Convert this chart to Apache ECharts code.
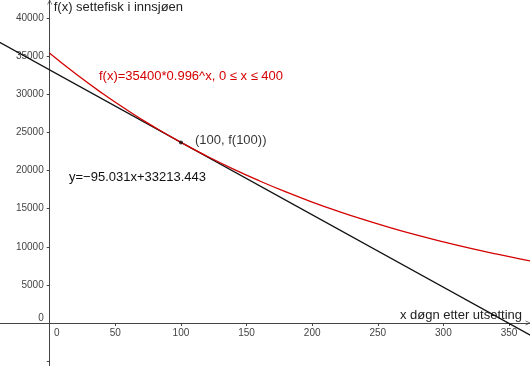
<!DOCTYPE html>
<html><head><meta charset="utf-8">
<script src="https://cdn.jsdelivr.net/npm/echarts@6/dist/echarts.min.js"></script>
<style>html,body{margin:0;padding:0;background:#fff}#c{width:530px;height:366px}</style>
</head><body><div id="c"></div>
<script>
// f(x)=35400*0.996^x, values read at these x positions
const curveX = [0,20,40,60,80,100,120,140,160,180,200,220,240,260,280,300,320,340,360,380,400];
const curveY = [35400,32673,30156,27833,25689,23710,21884,20198,18642,17206,15881,14658,13529,12486,11525,10637,9817,9061,8363,7719,7124];
// tangent y=-95.031x+33213.443 endpoints
const tangentX = [-40, 370];
const tangentY = [37014.7, -1948.0];
// point (100, f(100))
const pointX = [100];
const pointY = [23710];
// tick values
const xTicks = [0,50,100,150,200,250,300,350];
const yTicks = [-5000,0,5000,10000,15000,20000,25000,30000,35000,40000];
const yLabels = [0,5000,10000,15000,20000,25000,30000,35000,40000];

const FONT = 'Liberation Sans';
const axisCol = '#444';
const labCol = '#444';
const H = 366;
const ARROW = 'path://M0,10 L5,0 L10,10 L8.6,10 L5,2.6 L1.4,10 Z';
const chart = echarts.init(document.getElementById('c'), null, {renderer:'canvas'});
const option = {
  animation:false,
  textStyle:{fontFamily:FONT},
  grid:{left:0,right:0,top:0,bottom:0,containLabel:false,outerBoundsMode:'none'},
  xAxis:{
    type:'value', min:-37.9, max:366, offset:0,
    name:'x døgn etter utsetting', nameLocation:'end', nameGap:-8,
    nameTextStyle:{align:'right', verticalAlign:'bottom', fontSize:13, color:'#222', fontFamily:FONT, padding:[0,0,1,0]},
    axisLine:{onZero:false, lineStyle:{color:axisCol,width:1}, symbol:['none',ARROW], symbolSize:[7,5], symbolOffset:[0,-2]},
    axisTick:{show:true, length:3, customValues:xTicks, lineStyle:{color:axisCol}},
    axisLabel:{show:true, customValues:xTicks, fontSize:10, color:labCol, margin:5, fontFamily:FONT,
      formatter:v=> v===0 ? '{z|0}' : String(v),
      rich:{z:{fontSize:10,color:labCol,fontFamily:FONT,padding:[0,0,0,14]}}},
    splitLine:{show:false}
  },
  yAxis:{
    type:'value', min:-5645, max:42400, offset:0,
    name:'f(x) settefisk i innsjøen', nameLocation:'end', nameGap:-1,
    nameTextStyle:{align:'left', verticalAlign:'top', fontSize:13, color:'#222', fontFamily:FONT, padding:[0,0,0,4]},
    axisLine:{onZero:false, lineStyle:{color:axisCol,width:1}, symbol:['none',ARROW], symbolSize:[7,5], symbolOffset:[0,-2]},
    axisTick:{show:true, length:3, customValues:yTicks, lineStyle:{color:axisCol}},
    axisLabel:{show:true, customValues:yLabels, fontSize:10, color:labCol, margin:6, fontFamily:FONT,
      formatter:v=> v===0 ? '{z|0}' : String(v),
      rich:{z:{fontSize:10,color:labCol,fontFamily:FONT,padding:[0,0,10,0]}}},
    splitLine:{show:false}
  },
  series:[
    {type:'line', data:tangentX.map((x,i)=>[x,tangentY[i]]), showSymbol:false, symbol:'none',
      lineStyle:{color:'#111',width:1.3}, clip:true, z:2},
    {type:'line', data:curveX.map((x,i)=>[x,curveY[i]]), smooth:true, showSymbol:false, symbol:'none',
      lineStyle:{color:'#d40000',width:1.3}, clip:true, z:3},
    {type:'scatter', data:pointX.map((x,i)=>[x,pointY[i]]), symbolSize:4, itemStyle:{color:'#111'}, z:4,
      label:{show:true, position:'right', distance:12, formatter:'(100, f(100))', fontSize:13, color:'#000', fontFamily:FONT, offset:[0,-2]}}
  ],
  graphic:[
    {type:'text', left:99, top:70, style:{text:'f(x)=35400*0.996^x, 0 ≤ x ≤ 400', fill:'#d40000', font:'13px "Liberation Sans"'}},
    {type:'text', left:69, top:171, style:{text:'y=−95.031x+33213.443', fill:'#111', font:'13px "Liberation Sans"'}}
  ]
};
chart.setOption(option);
// move the axes onto the origin using the library's own scale
const origin = chart.convertToPixel({gridIndex:0}, [0,0]);
chart.setOption({xAxis:{offset:-(H - origin[1])}, yAxis:{offset:-origin[0]}});
</script></body></html>
